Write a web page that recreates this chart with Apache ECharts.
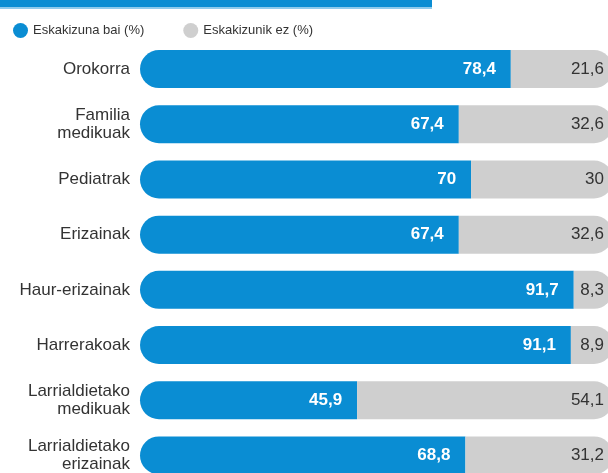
<!DOCTYPE html>
<html>
<head>
<meta charset="utf-8">
<script src="https://cdn.jsdelivr.net/npm/echarts@6/dist/echarts.min.js"></script>
<style>
  html, body { margin: 0; padding: 0; background: #fff; overflow: hidden; }
  /* a bit wider and taller than the window: the bars run off the edge in the print */
  #chart { width: 613px; height: 483px; }
</style>
</head>
<body>
<div id="chart"></div>
<script>
const categories = ['Orokorra', 'Familia\nmedikuak', 'Pediatrak', 'Erizainak', 'Haur-erizainak',
    'Harrerakoak', 'Larrialdietako\nmedikuak', 'Larrialdietako\nerizainak'];
const baiValues = [78.4, 67.4, 70, 67.4, 91.7, 91.1, 45.9, 68.8];
const ezValues = [21.6, 32.6, 30, 32.6, 8.3, 8.9, 54.1, 31.2];
const seriesNames = ['Eskakizuna bai (%)', 'Eskakizunik ez (%)'];

const blueColor = '#0a8dd3';
const greyColor = '#cfcfcf';
const fontName = '"Liberation Sans", Arial, sans-serif';

function comma(v) {
    return String(v).replace('.', ',');
}

var chart = echarts.init(document.getElementById('chart'));
var option = {
    animation: false,
    textStyle: { fontFamily: fontName },
    graphic: [
        { type: 'rect', shape: { x: 0, y: 0, width: 432, height: 7 }, style: { fill: '#0a8dd3' } },
        { type: 'rect', shape: { x: 0, y: 7, width: 432, height: 2 }, style: { fill: '#8fcbec' } }
    ],
    legend: {
        left: 8,
        top: 18,
        itemGap: 39,
        itemWidth: 15,
        itemHeight: 15,
        icon: 'circle',
        textStyle: { fontFamily: fontName, fontSize: 13, color: '#333' },
        data: seriesNames
    },
    grid: { left: 140, right: 0, top: 41.5, bottom: 0 },
    xAxis: {
        type: 'value',
        min: 0,
        max: 100,
        show: false
    },
    yAxis: {
        type: 'category',
        inverse: true,
        data: categories,
        axisLine: { show: false },
        axisTick: { show: false },
        axisLabel: {
            margin: 10,
            fontFamily: fontName,
            fontSize: 17,
            lineHeight: 18,
            color: '#333'
        }
    },
    series: [
        {
            name: seriesNames[0],
            type: 'bar',
            stack: 'total',
            barWidth: 38,
            data: baiValues,
            itemStyle: { color: blueColor, borderRadius: [19, 0, 0, 19] },
            label: {
                show: true,
                position: 'insideRight',
                distance: 15,
                color: '#fff',
                fontWeight: 'bold',
                fontSize: 17,
                fontFamily: fontName,
                formatter: p => comma(p.value)
            }
        },
        {
            name: seriesNames[1],
            type: 'bar',
            stack: 'total',
            barWidth: 38,
            data: ezValues,
            itemStyle: { color: greyColor, borderRadius: [0, 19, 19, 0] },
            label: {
                show: true,
                position: 'insideRight',
                distance: 9,
                color: '#333',
                fontSize: 17,
                fontFamily: fontName,
                formatter: p => comma(p.value)
            }
        }
    ]
};
chart.setOption(option);
</script>
</body>
</html>
